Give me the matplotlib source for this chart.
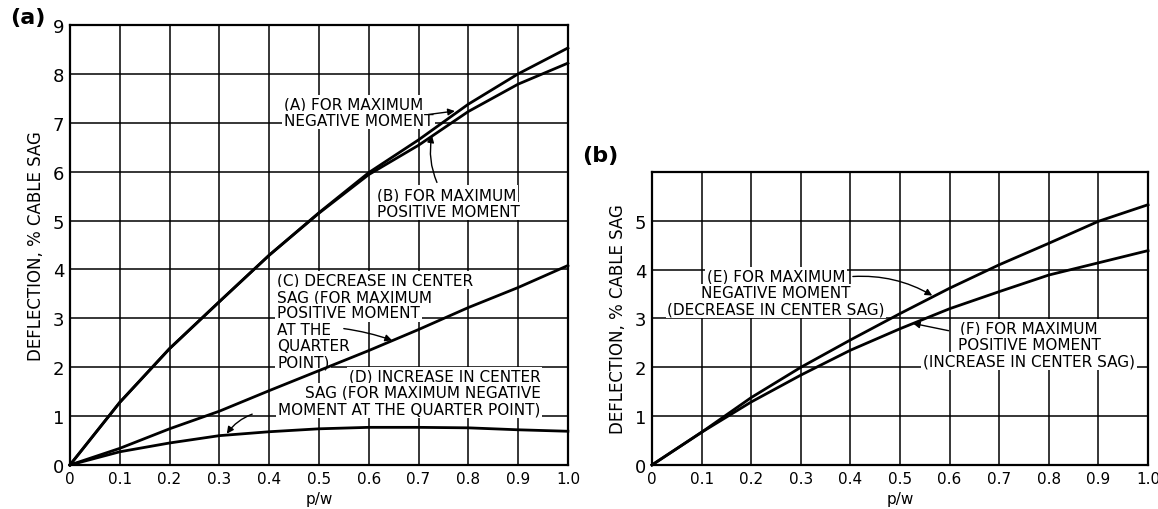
import matplotlib
matplotlib.use("Agg")
import matplotlib.pyplot as plt

plt.rcParams['font.family'] = ['Liberation Sans Narrow', 'DejaVu Sans']

# p/w values shared by all curves
pw = [0.0, 0.1, 0.2, 0.3, 0.4, 0.5, 0.6, 0.7, 0.8, 0.9, 1.0]

# panel (a)
curve_a = [0.0, 1.28, 2.38, 3.34, 4.29, 5.16, 5.98, 6.65, 7.38, 8.0, 8.53]
curve_b = [0.0, 1.28, 2.38, 3.34, 4.29, 5.15, 5.94, 6.54, 7.23, 7.79, 8.22]
curve_c = [0.0, 0.34, 0.74, 1.1, 1.52, 1.93, 2.34, 2.77, 3.22, 3.63, 4.08]
curve_d = [0.0, 0.27, 0.45, 0.6, 0.68, 0.74, 0.77, 0.77, 0.76, 0.72, 0.69]

# panel (b)
curve_e = [0.0, 0.67, 1.38, 2.0, 2.56, 3.1, 3.62, 4.1, 4.54, 4.99, 5.33]
curve_f = [0.0, 0.67, 1.29, 1.84, 2.35, 2.79, 3.2, 3.55, 3.89, 4.14, 4.39]

x_ticks = [0, 0.1, 0.2, 0.3, 0.4, 0.5, 0.6, 0.7, 0.8, 0.9, 1.0]
x_labels = ['0', '0.1', '0.2', '0.3', '0.4', '0.5', '0.6', '0.7', '0.8', '0.9', '1.0']

label_a = ['(A) FOR MAXIMUM', 'NEGATIVE MOMENT']
label_b = ['(B) FOR MAXIMUM', 'POSITIVE MOMENT']
label_c = ['(C) DECREASE IN CENTER', 'SAG (FOR MAXIMUM', 'POSITIVE MOMENT',
           'AT THE', 'QUARTER', 'POINT)']
label_d = ['(D) INCREASE IN CENTER', 'SAG (FOR MAXIMUM NEGATIVE',
           'MOMENT AT THE QUARTER POINT)']
label_e = ['(E) FOR MAXIMUM', 'NEGATIVE MOMENT', '(DECREASE IN CENTER SAG)']
label_f = ['(F) FOR MAXIMUM', 'POSITIVE MOMENT', '(INCREASE IN CENTER SAG)']

fig = plt.figure(figsize=(11.58, 5.10), dpi=100)
ax1 = fig.add_axes([0.0604, 0.0863, 0.4300, 0.8627])
ax2 = fig.add_axes([0.5630, 0.0863, 0.4284, 0.5745])

arrow = dict(arrowstyle='-|>', color='black', lw=1.0, mutation_scale=10,
             shrinkA=0, shrinkB=0)


def style(ax, ymax, yticks):
    ax.set_xlim(0, 1.0)
    ax.set_ylim(0, ymax)
    ax.set_xticks(x_ticks)
    ax.set_xticklabels(x_labels, fontsize=11)
    ax.set_yticks(yticks)
    ax.set_yticklabels([str(v) for v in yticks], fontsize=13)
    ax.tick_params(length=0, pad=4)
    ax.grid(True, color='black', linewidth=1.1)
    ax.set_axisbelow(True)
    for s in ax.spines.values():
        s.set_linewidth(1.6)
        s.set_zorder(7)
    ax.set_xlabel('p/w', fontsize=11, labelpad=4)
    ax.set_ylabel('DEFLECTION, % CABLE SAG', fontsize=12, labelpad=6)


def lines(ax, x, y, rows, ha='left'):
    # each row gets its own white patch so the grid shows beside short rows
    for i, row in enumerate(rows):
        ax.annotate(row, xy=(x, y), xytext=(0, -11.8 * i), textcoords='offset points',
                    ha=ha, va='center', fontsize=11, zorder=4,
                    bbox=dict(facecolor='white', edgecolor='none', pad=1.2))


style(ax1, 9, list(range(0, 10)))
style(ax2, 6, list(range(0, 6)))

for ys in (curve_a, curve_b, curve_c, curve_d):
    ax1.plot(pw, ys, color='black', lw=2.0, zorder=6, clip_on=False)
for ys in (curve_e, curve_f):
    ax2.plot(pw, ys, color='black', lw=2.0, zorder=6, clip_on=False)

# panel (a) labels
lines(ax1, 0.43, 7.39, label_a)
ax1.annotate('', xy=(0.773, 7.24), xytext=(0.72, 7.17), arrowprops=arrow, zorder=6)

lines(ax1, 0.616, 5.53, label_b)
ax1.annotate('', xy=(0.727, 6.74), xytext=(0.737, 5.78),
             arrowprops=dict(arrow, connectionstyle='arc3,rad=-0.15'), zorder=6)

lines(ax1, 0.416, 3.78, label_c)
ax1.annotate('', xy=(0.647, 2.55), xytext=(0.55, 2.79),
             arrowprops=dict(arrow, connectionstyle='arc3,rad=-0.05'), zorder=6)

lines(ax1, 0.945, 1.82, label_d, ha='right')
ax1.annotate('', xy=(0.315, 0.64), xytext=(0.366, 1.04),
             arrowprops=dict(arrow, connectionstyle='arc3,rad=0.15'), zorder=6)

# panel (b) labels
lines(ax2, 0.25, 3.86, label_e, ha='center')
ax2.annotate('', xy=(0.565, 3.47), xytext=(0.405, 3.86),
             arrowprops=dict(arrow, connectionstyle='arc3,rad=-0.15'), zorder=6)

lines(ax2, 0.76, 2.8, label_f, ha='center')
ax2.annotate('', xy=(0.526, 2.9), xytext=(0.598, 2.75), arrowprops=arrow, zorder=6)

fig.text(0.009, 0.965, '(a)', fontsize=16, fontweight='bold', family='DejaVu Sans',
         ha='left', va='center')
fig.text(0.503, 0.695, '(b)', fontsize=16, fontweight='bold', family='DejaVu Sans',
         ha='left', va='center')

fig.savefig('out.png', dpi=100, facecolor='white')
plt.close(fig)
